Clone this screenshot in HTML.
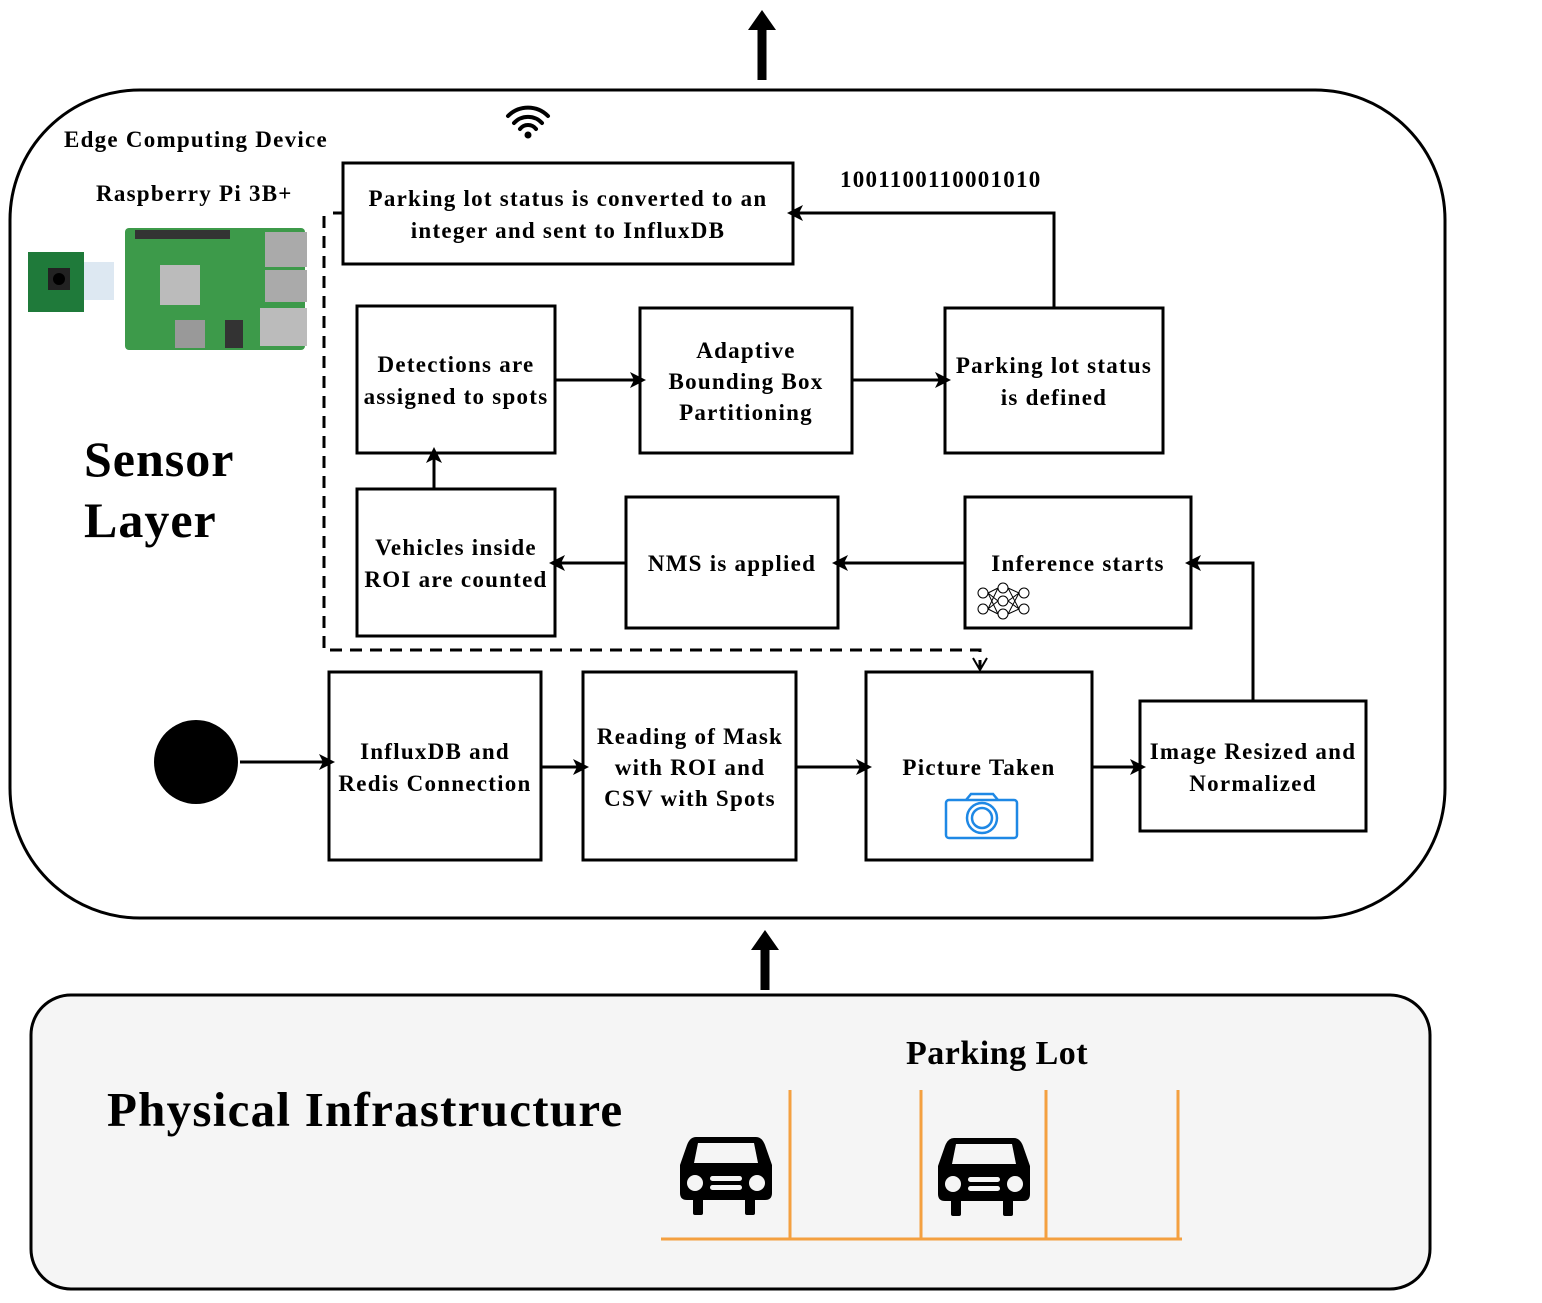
<!DOCTYPE html>
<html><head><style>
body{margin:0;background:#fff}
svg{display:block}
text{font-family:"Liberation Serif",serif;font-weight:bold;fill:#000;letter-spacing:1.25px}
.b{fill:#fff;stroke:#000;stroke-width:3}
.t{font-size:23px;text-anchor:middle}
</style></head><body>
<svg width="1542" height="1303" viewBox="0 0 1542 1303" xmlns="http://www.w3.org/2000/svg">
<defs>
<marker id="A" markerWidth="16" markerHeight="16" refX="8" refY="8" orient="auto" markerUnits="userSpaceOnUse"><path d="M0,0 L16,8 L0,16 L4,8z" fill="#000"/></marker>
</defs>
<line x1="762" y1="80" x2="762" y2="22" stroke="#000" stroke-width="9"/>
<path d="M748,30 L762,10 L776,30z" fill="#000"/>
<line x1="765" y1="990" x2="765" y2="942" stroke="#000" stroke-width="9"/>
<path d="M751,950 L765,930 L779,950z" fill="#000"/>
<rect x="10" y="90" width="1435" height="828" rx="130" fill="#fff" stroke="#000" stroke-width="3"/>
<rect x="31" y="995" width="1399" height="294" rx="40" fill="#f5f5f5" stroke="#000" stroke-width="3"/>
<text x="64" y="147" font-size="23">Edge Computing Device</text>
<text x="96" y="201" font-size="23">Raspberry Pi 3B+</text>
<text x="84" y="476" font-size="50" style="letter-spacing:1px">Sensor</text>
<text x="84" y="537" font-size="50" style="letter-spacing:1px">Layer</text>
<text x="107" y="1126" font-size="49">Physical Infrastructure</text>
<text x="906" y="1064" font-size="34" style="letter-spacing:0.5px">Parking Lot</text>
<text x="840" y="187" font-size="23">1001100110001010</text>
<g fill="none" stroke="#000" stroke-width="4" stroke-linecap="round">
<path d="M508,116 A28,28 0 0 1 548,116"/><path d="M514,123 A19,19 0 0 1 542,123"/><path d="M520,129 A10,10 0 0 1 536,129"/></g>
<circle cx="528" cy="135" r="3.5" fill="#000"/>
<rect x="28" y="252" width="56" height="60" fill="#1f7a3a"/>
<rect x="48" y="268" width="22" height="22" fill="#222"/><circle cx="59" cy="279" r="6" fill="#000"/>
<rect x="84" y="262" width="30" height="38" fill="#dde8f2"/>
<rect x="125" y="228" width="180" height="122" rx="4" fill="#3d9a4a"/>
<rect x="135" y="230" width="95" height="9" fill="#333"/>
<rect x="160" y="265" width="40" height="40" fill="#bbb"/>
<rect x="265" y="232" width="42" height="35" fill="#aaa"/><rect x="265" y="270" width="42" height="32" fill="#aaa"/><rect x="260" y="308" width="47" height="38" fill="#bbb"/>
<rect x="175" y="320" width="30" height="28" fill="#999"/><rect x="225" y="320" width="18" height="28" fill="#333"/>
<path d="M324,216 L324,650 L980,650 L980,668" fill="none" stroke="#000" stroke-width="3" stroke-dasharray="12,8"/>
<path d="M973,658 L980,670 L987,658" fill="none" stroke="#000" stroke-width="2"/>
<line x1="333" y1="213" x2="343" y2="213" stroke="#000" stroke-width="3"/>
<line x1="343" y1="163" x2="352" y2="163" stroke="#000" stroke-width="2"/>
<rect class="b" x="343" y="163" width="450" height="101"/>
<text class="t" x="568" y="206">Parking lot status is converted to an</text>
<text class="t" x="568" y="238">integer and sent to InfluxDB</text>
<rect class="b" x="357" y="306" width="198" height="147"/>
<text class="t" x="456" y="372">Detections are</text><text class="t" x="456" y="404">assigned to spots</text>
<rect class="b" x="640" y="308" width="212" height="145"/>
<text class="t" x="746" y="358">Adaptive</text><text class="t" x="746" y="389">Bounding Box</text><text class="t" x="746" y="420">Partitioning</text>
<rect class="b" x="945" y="308" width="218" height="145"/>
<text class="t" x="1054" y="373">Parking lot status</text><text class="t" x="1054" y="405">is defined</text>
<rect class="b" x="357" y="489" width="198" height="147"/>
<text class="t" x="456" y="555">Vehicles inside</text><text class="t" x="456" y="587">ROI are counted</text>
<rect class="b" x="626" y="497" width="212" height="131"/>
<text class="t" x="732" y="571">NMS is applied</text>
<rect class="b" x="965" y="497" width="226" height="131"/>
<text class="t" x="1078" y="571">Inference starts</text>
<g fill="none" stroke="#000" stroke-width="1"><circle cx="983" cy="593" r="5"/><circle cx="983" cy="609" r="5"/><circle cx="1003" cy="588" r="5"/><circle cx="1003" cy="601" r="5"/><circle cx="1003" cy="614" r="5"/><circle cx="1024" cy="593" r="5"/><circle cx="1024" cy="609" r="5"/><path d="M988,593 L998,588 M988,593 L998,601 M988,593 L998,614 M988,609 L998,588 M988,609 L998,601 M988,609 L998,614 M1008,588 L1019,593 M1008,601 L1019,593 M1008,614 L1019,609 M1008,601 L1019,609 M1008,588 L1019,609 M1008,614 L1019,593"/></g>
<rect class="b" x="329" y="672" width="212" height="188"/>
<text class="t" x="435" y="759">InfluxDB and</text><text class="t" x="435" y="791">Redis Connection</text>
<rect class="b" x="583" y="672" width="213" height="188"/>
<text class="t" x="690" y="744">Reading of Mask</text><text class="t" x="690" y="775">with ROI and</text><text class="t" x="690" y="806">CSV with Spots</text>
<rect class="b" x="866" y="672" width="226" height="188"/>
<text class="t" x="979" y="775">Picture Taken</text>
<g fill="none" stroke="#1e88e5" stroke-width="2.5"><rect x="946" y="800" width="71" height="38" rx="3"/><path d="M966,800 L971,794 L993,794 L998,800"/><circle cx="982" cy="818" r="15"/><circle cx="982" cy="818" r="10"/></g>
<rect class="b" x="1140" y="701" width="226" height="130"/>
<text class="t" x="1253" y="759">Image Resized and</text><text class="t" x="1253" y="791">Normalized</text>
<circle cx="196" cy="762" r="42" fill="#000"/>
<g stroke="#000" stroke-width="3" fill="none">
<line x1="240" y1="762" x2="327" y2="762" marker-end="url(#A)"/>
<line x1="541" y1="767" x2="581" y2="767" marker-end="url(#A)"/>
<line x1="796" y1="767" x2="864" y2="767" marker-end="url(#A)"/>
<line x1="1092" y1="767" x2="1138" y2="767" marker-end="url(#A)"/>
<path d="M1253,701 L1253,563 L1193,563" marker-end="url(#A)"/>
<line x1="965" y1="563" x2="840" y2="563" marker-end="url(#A)"/>
<line x1="626" y1="563" x2="557" y2="563" marker-end="url(#A)"/>
<line x1="434" y1="489" x2="434" y2="455" marker-end="url(#A)"/>
<line x1="555" y1="380" x2="638" y2="380" marker-end="url(#A)"/>
<line x1="852" y1="380" x2="943" y2="380" marker-end="url(#A)"/>
<path d="M1054,308 L1054,213 L795,213" marker-end="url(#A)"/>
</g>
<g stroke="#f4a040" stroke-width="3"><line x1="661" y1="1239" x2="1182" y2="1239"/><line x1="790" y1="1090" x2="790" y2="1240"/><line x1="921" y1="1090" x2="921" y2="1240"/><line x1="1046" y1="1090" x2="1046" y2="1240"/><line x1="1178" y1="1090" x2="1178" y2="1240"/></g>
<g id="car"><path d="M696,1137 L756,1137 Q762,1137 765,1145 L772,1165 L772,1193 Q772,1200 765,1200 L687,1200 Q680,1200 680,1193 L680,1165 L687,1145 Q690,1137 696,1137z" fill="#000"/>
<rect x="693" y="1198" width="10" height="17" rx="2" fill="#000"/><rect x="745" y="1198" width="10" height="17" rx="2" fill="#000"/>
<path d="M698,1143 L754,1143 L758,1163 L694,1163z" fill="#f5f5f5"/>
<circle cx="695" cy="1183" r="8" fill="#f5f5f5"/><circle cx="757" cy="1183" r="8" fill="#f5f5f5"/>
<rect x="710" y="1176" width="32" height="5" rx="2.5" fill="#f5f5f5"/><rect x="710" y="1185" width="32" height="5" rx="2.5" fill="#f5f5f5"/></g>
<use href="#car" x="258" y="1"/>
</svg>
</body></html>
